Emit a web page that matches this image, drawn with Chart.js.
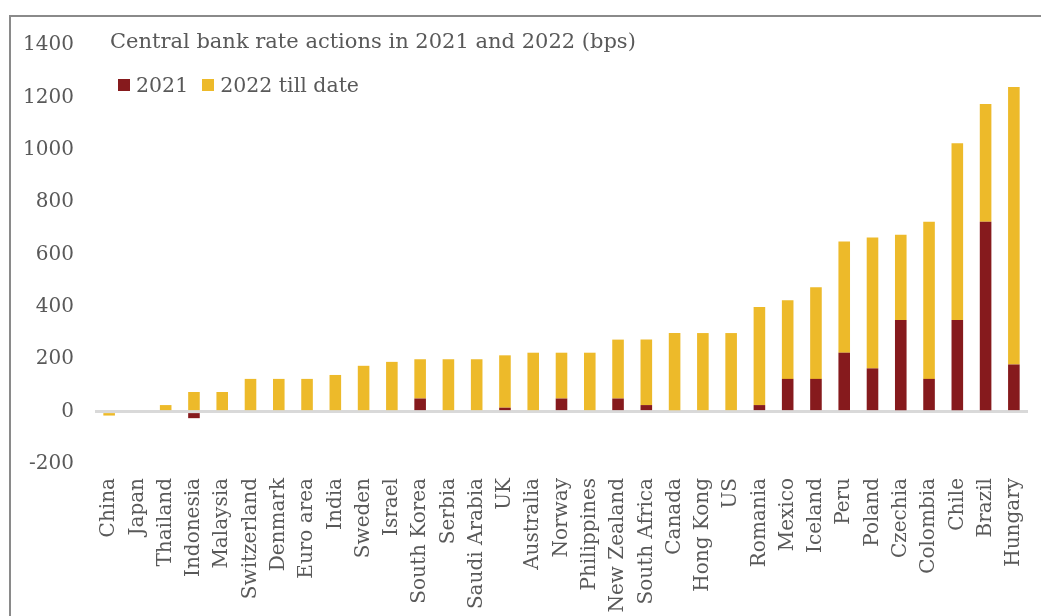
<!DOCTYPE html>
<html>
<head>
<meta charset="utf-8">
<script src="https://cdn.jsdelivr.net/npm/chart.js@4/dist/chart.umd.min.js"></script>
<style>
  body { margin: 0; background: #fff; overflow: hidden; }
  #wrap { position: relative; width: 1041px; height: 616px; overflow: hidden; }
  #frame { position: absolute; left: 9px; top: 15px; width: 1100px; height: 700px;
    border-left: 2px solid #8a8a8a; border-top: 2px solid #8a8a8a; }
  #chart { position: absolute; left: 0; top: 0; }
  .txt { position: absolute; font-family: "DejaVu Serif", serif; color: #595959; white-space: nowrap; }
  #title { left: 110px; top: 29px; font-size: 21px; }
  #legend { left: 118px; top: 73px; font-size: 20.5px; display: flex; align-items: center; }
  #legend span.box { display: inline-block; width: 12px; height: 12px; margin-right: 6px; }
  #legend span.lbl { margin-right: 14px; }
</style>
</head>
<body>
<div id="wrap">
  <div id="frame"></div>
  <canvas id="chart" width="1041" height="616"></canvas>
  <div id="title" class="txt">Central bank rate actions in 2021 and 2022 (bps)</div>
  <div id="legend" class="txt"></div>
</div>
<script>
const countries = ['China', 'Japan', 'Thailand', 'Indonesia', 'Malaysia', 'Switzerland', 'Denmark',
  'Euro area', 'India', 'Sweden', 'Israel', 'South Korea', 'Serbia', 'Saudi Arabia', 'UK', 'Australia',
  'Norway', 'Philippines', 'New Zealand', 'South Africa', 'Canada', 'Hong Kong', 'US', 'Romania',
  'Mexico', 'Iceland', 'Peru', 'Poland', 'Czechia', 'Colombia', 'Chile', 'Brazil', 'Hungary']

const actions2021 = [0, 0, 0, -25, 0, 0, 0, 0, 0, 0, 0, 50, 0, 0, 15, 0,
  50, 0, 50, 25, 0, 0, 0, 25, 125, 125, 225, 165, 350, 125, 350, 725, 180]

const actions2022 = [-15, 0, 25, 75, 75, 125, 125, 125, 140, 175, 190, 150, 200, 200, 200, 225,
  175, 225, 225, 250, 300, 300, 300, 375, 300, 350, 425, 500, 325, 600, 675, 450, 1060]

const yTicks = [-200, 0, 200, 400, 600, 800, 1000, 1200, 1400]

const red = '#861a1d'
const yellow = '#edba2a'
const textColor = '#595959'
const font = 'DejaVu Serif'

const datasets = [
  { label: '2021', data: actions2021, backgroundColor: red },
  { label: '2022 till date', data: actions2022, backgroundColor: yellow },
]

// html legend, sits inside the plot like the original
const legendEl = document.getElementById('legend')
datasets.forEach(ds => {
  const box = document.createElement('span')
  box.className = 'box'
  box.style.background = ds.backgroundColor
  const lbl = document.createElement('span')
  lbl.className = 'lbl'
  lbl.textContent = ds.label
  legendEl.appendChild(box)
  legendEl.appendChild(lbl)
})

new Chart(document.getElementById('chart'), {
  type: 'bar',
  data: {
    labels: countries,
    datasets: datasets.map(ds => ({ ...ds, barPercentage: 0.41, categoryPercentage: 1 })),
  },
  options: {
    responsive: false,
    animation: false,
    layout: { padding: { top: 45, right: 13, left: 0, bottom: 0 } },
    scales: {
      x: {
        stacked: true,
        grid: { display: false, drawTicks: false },
        border: { display: false },
        afterFit: scale => {
          scale.height = 152
          scale.paddingLeft = 0
          scale.paddingRight = 0
        },
        ticks: {
          autoSkip: false,
          maxRotation: 90,
          minRotation: 90,
          padding: 14,
          color: textColor,
          font: { family: font, size: 20 },
        },
      },
      y: {
        stacked: true,
        min: -200,
        max: 1400,
        afterFit: scale => { scale.width = 95 },
        afterBuildTicks: scale => { scale.ticks = yTicks.map(v => ({ value: v })) },
        border: { display: false },
        grid: {
          drawTicks: false,
          color: ctx => ctx.tick && ctx.tick.value === 0 ? '#d9d9d9' : 'rgba(0,0,0,0)',
          lineWidth: ctx => ctx.tick && ctx.tick.value === 0 ? 3 : 0,
        },
        ticks: {
          padding: 21,
          color: textColor,
          font: { family: font, size: 20 },
          callback: value => String(value),
        },
      },
    },
    plugins: {
      legend: { display: false },
      tooltip: { enabled: false },
    },
  },
})
</script>
</body>
</html>
